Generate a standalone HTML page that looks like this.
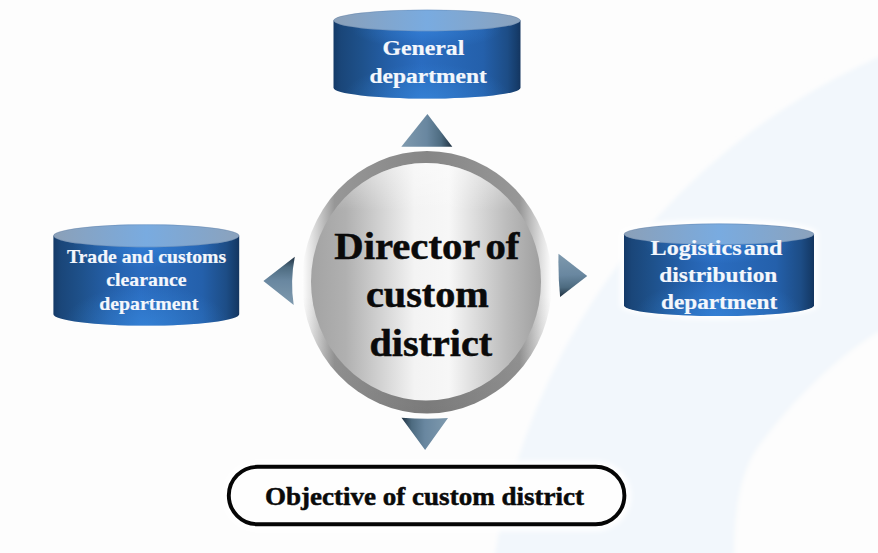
<!DOCTYPE html>
<html><head><meta charset="utf-8">
<style>
html,body{margin:0;padding:0;background:#fdfdfd;}
body{width:878px;height:553px;overflow:hidden;position:relative;}
svg{position:absolute;left:0;top:0;}
text{font-family:"Liberation Serif",serif;font-weight:bold;}
</style></head>
<body>
<svg width="878" height="553" viewBox="0 0 878 553">
<defs>
  <linearGradient id="body" x1="0" y1="0" x2="1" y2="0">
    <stop offset="0" stop-color="#143a68"/>
    <stop offset="0.04" stop-color="#1a4679"/>
    <stop offset="0.15" stop-color="#1e518b"/>
    <stop offset="0.3" stop-color="#245fa8"/>
    <stop offset="0.47" stop-color="#2a6cc0"/>
    <stop offset="0.6" stop-color="#2868b8"/>
    <stop offset="0.8" stop-color="#2460ab"/>
    <stop offset="0.93" stop-color="#1d4d86"/>
    <stop offset="0.98" stop-color="#163d6c"/>
    <stop offset="1" stop-color="#14355f"/>
  </linearGradient>
  <radialGradient id="bodyhl" cx="0.5" cy="1" r="0.45" fx="0.5" fy="1">
    <stop offset="0" stop-color="#3a8ce0" stop-opacity="0.6"/>
    <stop offset="1" stop-color="#3a8ce0" stop-opacity="0"/>
  </radialGradient>
  <radialGradient id="bodyhl2" cx="0.5" cy="0.12" r="0.4" fx="0.5" fy="0.12" gradientTransform="translate(0.5,0.12) scale(1,0.6) translate(-0.5,-0.12)">
    <stop offset="0" stop-color="#3a8ce6" stop-opacity="0.5"/>
    <stop offset="1" stop-color="#3a8ce6" stop-opacity="0"/>
  </radialGradient>
  <linearGradient id="top" x1="0" y1="0" x2="1" y2="0">
    <stop offset="0" stop-color="#8ba0b8"/>
    <stop offset="0.5" stop-color="#79abe0"/>
    <stop offset="1" stop-color="#8ba2bc"/>
  </linearGradient>
  <linearGradient id="ring" x1="0" y1="0" x2="1" y2="0">
    <stop offset="0" stop-color="#ffffff"/>
    <stop offset="0.04" stop-color="#e2e2e2"/>
    <stop offset="0.13" stop-color="#979797"/>
    <stop offset="0.5" stop-color="#868686"/>
    <stop offset="0.87" stop-color="#979797"/>
    <stop offset="0.96" stop-color="#e2e2e2"/>
    <stop offset="1" stop-color="#ffffff"/>
  </linearGradient>
  <linearGradient id="ringshade" x1="0" y1="0" x2="0" y2="1">
    <stop offset="0" stop-color="#000" stop-opacity="0"/>
    <stop offset="0.55" stop-color="#000" stop-opacity="0"/>
    <stop offset="1" stop-color="#000" stop-opacity="0.09"/>
  </linearGradient>
  <linearGradient id="discshade" x1="0" y1="0" x2="0" y2="1">
    <stop offset="0" stop-color="#fff" stop-opacity="0.45"/>
    <stop offset="0.2" stop-color="#fff" stop-opacity="0"/>
    <stop offset="1" stop-color="#fff" stop-opacity="0"/>
  </linearGradient>
  <linearGradient id="disc" x1="0" y1="0" x2="1" y2="0">
    <stop offset="0" stop-color="#a3a3a3"/>
    <stop offset="0.15" stop-color="#b0b0b0"/>
    <stop offset="0.45" stop-color="#f3f3f3"/>
    <stop offset="0.6" stop-color="#f7f7f7"/>
    <stop offset="0.85" stop-color="#bcbcbc"/>
    <stop offset="1" stop-color="#9f9f9f"/>
  </linearGradient>
  <linearGradient id="tT" gradientUnits="userSpaceOnUse" x1="401.3" y1="146.7" x2="452.3" y2="146.7">
    <stop offset="0" stop-color="#7f9aae"/>
    <stop offset="0.5" stop-color="#6987a0"/>
    <stop offset="0.78" stop-color="#4d6b80"/>
    <stop offset="1" stop-color="#1f3040"/>
  </linearGradient>
  <linearGradient id="tB" gradientUnits="userSpaceOnUse" x1="448.4" y1="418" x2="401.3" y2="418">
    <stop offset="0" stop-color="#7f9aae"/>
    <stop offset="0.5" stop-color="#6987a0"/>
    <stop offset="0.78" stop-color="#4d6b80"/>
    <stop offset="1" stop-color="#1f3040"/>
  </linearGradient>
  <linearGradient id="tL" gradientUnits="userSpaceOnUse" x1="293.7" y1="305" x2="294.8" y2="256.7">
    <stop offset="0" stop-color="#7f9aae"/>
    <stop offset="0.5" stop-color="#6987a0"/>
    <stop offset="0.78" stop-color="#4d6b80"/>
    <stop offset="1" stop-color="#1f3040"/>
  </linearGradient>
  <linearGradient id="tR" gradientUnits="userSpaceOnUse" x1="558.5" y1="253.7" x2="560" y2="297">
    <stop offset="0" stop-color="#7f9aae"/>
    <stop offset="0.5" stop-color="#6987a0"/>
    <stop offset="0.78" stop-color="#4d6b80"/>
    <stop offset="1" stop-color="#1f3040"/>
  </linearGradient>
<filter id="glow" x="-20%" y="-20%" width="140%" height="140%"><feGaussianBlur stdDeviation="2.5"/></filter>
<filter id="soft" x="0" y="0" width="878" height="553" filterUnits="userSpaceOnUse"><feGaussianBlur stdDeviation="2"/></filter>
</defs>
<g filter="url(#soft)"><circle cx="1146.5" cy="660.2" r="660" fill="#f2f7fc"/>
<path d="M878,332 C830,362 790,405 765,438 C740,466 734,510 734,560 L890,560 L890,332 Z" fill="#fdfdfd"/></g>
<path d="M620,233.5 L620,305.2 A99,14 0 0 0 818,305.2 L818,233.5 A99,14 0 0 0 620,233.5 Z" fill="#ffffff" filter="url(#glow)"/>
<rect x="223" y="461" width="408" height="70" rx="35" fill="#ffffff" filter="url(#glow)"/>
<path d="M333.5,20.5 L333.5,87.8 A93.5,10.8 0 0 0 520.5,87.8 L520.5,20.5 Z" fill="url(#body)"/>
<path d="M333.5,20.5 L333.5,87.8 A93.5,10.8 0 0 0 520.5,87.8 L520.5,20.5 Z" fill="url(#bodyhl)"/>
<path d="M333.5,20.5 L333.5,87.8 A93.5,10.8 0 0 0 520.5,87.8 L520.5,20.5 Z" fill="url(#bodyhl2)"/>
<ellipse cx="427.0" cy="20.5" rx="93.5" ry="10.8" fill="url(#top)"/>
<ellipse cx="427.0" cy="20.5" rx="93.2" ry="10.5" fill="none" stroke="#4b6f99" stroke-opacity="0.35" stroke-width="0.8"/>
<path d="M53.4,235.8 L53.4,314.2 A92.89999999999999,11.4 0 0 0 239.2,314.2 L239.2,235.8 Z" fill="url(#body)"/>
<path d="M53.4,235.8 L53.4,314.2 A92.89999999999999,11.4 0 0 0 239.2,314.2 L239.2,235.8 Z" fill="url(#bodyhl)"/>
<path d="M53.4,235.8 L53.4,314.2 A92.89999999999999,11.4 0 0 0 239.2,314.2 L239.2,235.8 Z" fill="url(#bodyhl2)"/>
<ellipse cx="146.29999999999998" cy="235.8" rx="92.89999999999999" ry="11.4" fill="url(#top)"/>
<ellipse cx="146.29999999999998" cy="235.8" rx="92.6" ry="11.1" fill="none" stroke="#4b6f99" stroke-opacity="0.35" stroke-width="0.8"/>
<path d="M624,234.2 L624,305.5 A95.0,10.6 0 0 0 814,305.5 L814,234.2 Z" fill="url(#body)"/>
<path d="M624,234.2 L624,305.5 A95.0,10.6 0 0 0 814,305.5 L814,234.2 Z" fill="url(#bodyhl)"/>
<path d="M624,234.2 L624,305.5 A95.0,10.6 0 0 0 814,305.5 L814,234.2 Z" fill="url(#bodyhl2)"/>
<ellipse cx="719.0" cy="234.2" rx="95.0" ry="10.6" fill="url(#top)"/>
<ellipse cx="719.0" cy="234.2" rx="94.7" ry="10.299999999999999" fill="none" stroke="#4b6f99" stroke-opacity="0.35" stroke-width="0.8"/>
<ellipse cx="427" cy="282.2" rx="125" ry="131.3" fill="url(#ring)"/>
<ellipse cx="427" cy="282.2" rx="125" ry="131.3" fill="url(#ringshade)"/>
<ellipse cx="426" cy="281.8" rx="115" ry="118.8" fill="url(#disc)"/>
<ellipse cx="426" cy="281.8" rx="115" ry="118.8" fill="url(#discshade)"/>
<path d="M427.4,114 L452.3,146.7 L401.3,146.7 Z" fill="url(#tT)"/>
<path d="M401.5,417.7 Q425,419.5 448,418.1 L425.1,449.9 Z" fill="url(#tB)"/>
<path d="M263.4,280.9 L294.8,256.7 Q290,281 293.7,305 Z" fill="url(#tL)"/>
<path d="M558.5,253.7 L587.2,275.9 L560.1,297 Q558,276 558.5,253.7 Z" fill="url(#tR)"/>
<rect x="228.8" y="466.8" width="395.6" height="57.4" rx="28.7" ry="28.7" fill="#fefefe" stroke="#050505" stroke-width="3.9"/>
<text x="423.4" y="55.5" font-size="22" fill="#f4f7fc" stroke="#f4f7fc" stroke-width="0.2" text-anchor="middle" transform="matrix(1.082,0,0,1,-34.72,0)">General</text>
<text x="428.2" y="82.6" font-size="22" fill="#f4f7fc" stroke="#f4f7fc" stroke-width="0.2" text-anchor="middle" transform="matrix(1.067,0,0,1,-28.69,0)">department</text>
<text x="146.5" y="262.7" font-size="19" fill="#f4f7fc" stroke="#f4f7fc" stroke-width="0.2" text-anchor="middle" transform="matrix(1.036,0,0,1,-5.27,0)">Trade and customs</text>
<text x="146.4" y="286.2" font-size="19" fill="#f4f7fc" stroke="#f4f7fc" stroke-width="0.2" text-anchor="middle" transform="matrix(1.042,0,0,1,-6.15,0)">clearance</text>
<text x="148.7" y="310.2" font-size="19" fill="#f4f7fc" stroke="#f4f7fc" stroke-width="0.2" text-anchor="middle" transform="matrix(1.044,0,0,1,-6.54,0)">department</text>
<text word-spacing="-3.5" x="716.55" y="254.6" font-size="22" fill="#f4f7fc" stroke="#f4f7fc" stroke-width="0.2" text-anchor="middle" transform="matrix(1.095,0,0,1,-68.07,0)">Logistics and</text>
<text x="718.35" y="281.6" font-size="22" fill="#f4f7fc" stroke="#f4f7fc" stroke-width="0.2" text-anchor="middle" transform="matrix(1.061,0,0,1,-43.82,0)">distribution</text>
<text x="719.1" y="309.3" font-size="22" fill="#f4f7fc" stroke="#f4f7fc" stroke-width="0.2" text-anchor="middle" transform="matrix(1.057,0,0,1,-40.99,0)">department</text>
<text word-spacing="-4" x="426.8" y="258.8" font-size="37" fill="#0a0a0a" stroke="#0a0a0a" stroke-width="0.5" text-anchor="middle" transform="matrix(1.1,0,0,1,-42.68,0)">Director of</text>
<text x="427.35" y="307.5" font-size="37" fill="#0a0a0a" stroke="#0a0a0a" stroke-width="0.5" text-anchor="middle" transform="matrix(1.087,0,0,1,-37.18,0)">custom</text>
<text x="430.8" y="355.6" font-size="37" fill="#0a0a0a" stroke="#0a0a0a" stroke-width="0.5" text-anchor="middle" transform="matrix(1.085,0,0,1,-36.62,0)">district</text>
<text x="424.5" y="505.5" font-size="26" fill="#0a0a0a" stroke="#0a0a0a" stroke-width="0.5" text-anchor="middle" transform="matrix(1.04,0,0,1,-16.98,0)">Objective of custom district</text>
</svg>
</body></html>
